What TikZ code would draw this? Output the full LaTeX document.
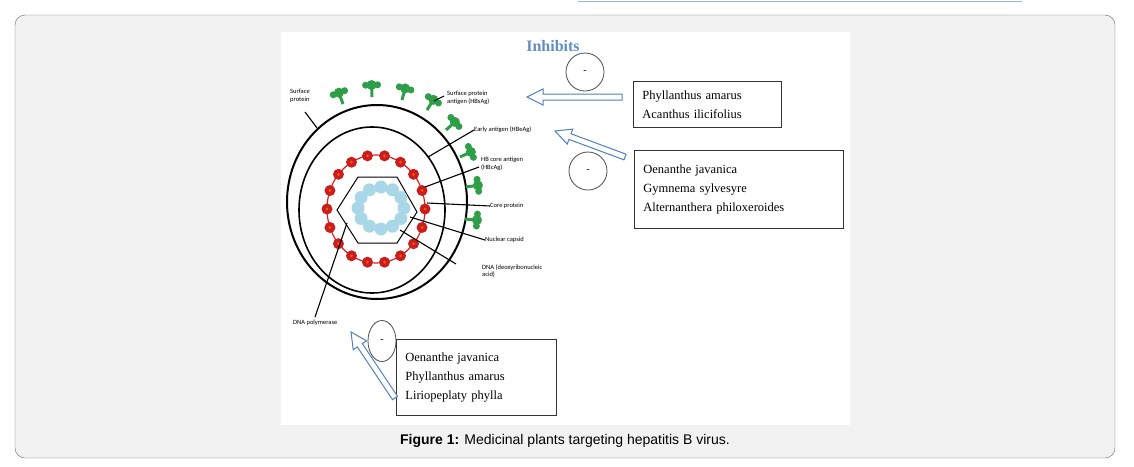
\documentclass[tikz,border=0pt]{standalone}
\usepackage{fontspec}
\setmainfont{Liberation Serif}
\newfontfamily\labfont{Carlito}
\newfontfamily\capfont{Liberation Sans}
\usetikzlibrary{shapes.geometric,calc}
\definecolor{frame}{HTML}{F2F2F3}
\definecolor{ablue}{HTML}{4F81BD}
\definecolor{pgreen}{HTML}{2E9E48}
\definecolor{bred}{HTML}{E02020}
\definecolor{dblue}{HTML}{A8D8E8}
\newcommand\blockarr[2]{%
  \coordinate (hh) at ($(#2)!16pt!(#1)$);
  \draw[ablue,line width=1pt,fill=white,line join=miter]
    ($(#1)!3pt!90:(#2)$) -- ($(hh)!3pt!90:(#2)$) -- ($(hh)!8pt!90:(#2)$) -- (#2)
    -- ($(hh)!8pt!-90:(#2)$) -- ($(hh)!3pt!-90:(#2)$) -- ($(#1)!3pt!-90:(#2)$) -- cycle;}
\begin{document}
\begin{tikzpicture}[x=1pt,y=-1pt,
  lbl/.style={font=\labfont\fontsize{6.5}{7.5}\selectfont,inner sep=0pt,anchor=west,align=left},
  lead/.style={line width=1.1pt},
  plant/.style={draw=black!80,line width=0.8pt,font=\fontsize{12.5}{19}\selectfont,align=left,anchor=north west,inner xsep=9pt,inner ysep=0pt,text width=#1},
  minus/.style={draw=black!70,ellipse,line width=0.8pt,inner sep=0pt}]
\useasboundingbox (0,0) rectangle (1134,466);
\draw[ablue!60,line width=1pt] (578,1) -- (1022,1);
\draw[black!60,fill=frame,rounded corners=10pt] (15,15) rectangle (1115,458);
\fill[white] (281,32) rectangle (850,425);
% virus
\draw[line width=2pt] (377,202) ellipse [x radius=90,y radius=97];
\draw[line width=1.6pt] (372,210) ellipse [x radius=73,y radius=83];
\draw[bred,line width=1.2pt] (376,209) ellipse [x radius=49,y radius=54];
\foreach \a in {0,20,...,340}
  \fill[bred!90!black] ($(376,209)+(\a:49 and 54)$) circle (5.5pt);
\foreach \a in {0,20,...,340}
  \fill[orange!70!red] ($(376,209)+(\a:49 and 54)$) circle (1.5pt);
\draw[line width=1pt] (337,210)--(358,177)--(397,177)--(417,212)--(397,243)--(358,243)--cycle;
\foreach \a in {0,30,...,330}
  \fill[dblue] ($(381,208)+(\a:23 and 21)$) circle (6.5pt);
\fill[white] (381,208) ellipse [x radius=14,y radius=12];
% surface proteins
\foreach \x/\y/\r in {343/104/110,372/97/92,402/100/75,427/110/58,446/130/42,460/157/25,466/187/8,465/219/-5}{
  \draw[pgreen,line width=3pt] (\x,\y) -- ++(-\r:10);
  \fill[pgreen] ($(\x,\y)+(-\r:12)$) circle (5pt);
  \fill[pgreen] ($(\x,\y)+(-\r:12)+(-\r+90:6)$) circle (3.5pt);
  \fill[pgreen] ($(\x,\y)+(-\r:12)+(-\r-90:6)$) circle (3.5pt);}
% labels
\node[lbl] (sp) at (290,96) {Surface\\protein};
\draw[lead] (305,112) -- (317,128);
\node[lbl] (hbs) at (447,98) {Surface protein\\antigen (HBsAg)};
\draw[lead] (434,101) -- (444,96);
\node[lbl] (hbe) at (474,130) {Early antigen (HBeAg)};
\draw[lead] (428,157) -- (hbe.west);
\node[lbl] (hbc) at (481,164) {HB core antigen\\(HBcAg)};
\draw[lead] (425,187) -- (479,167);
\node[lbl] (cp) at (490,206) {Core protein};
\draw[lead] (427,203) -- (cp.west);
\node[lbl] (nc) at (485,240) {Nuclear capsid};
\draw[lead] (410,217) -- (nc.west);
\node[lbl] (dna) at (482,271) {DNA (deoxyribonucleic\\acid)};
\draw[lead] (400,230) -- (456,264);
\node[lbl] (pol) at (293,323) {DNA polymerase};
\draw[lead] (347,223) -- (315,317);
% inhibitors
\node[font=\bfseries\fontsize{16}{18}\selectfont,text=ablue!90] (inh) at (553,46) {Inhibits};
\node[plant=130pt,minimum height=46pt] (b1) at (633,81) {Phyllanthus amarus\\Acanthus ilicifolius};
\node[plant=191pt,minimum height=78pt] (b2) at (634,150) {Oenanthe javanica\\Gymnema sylvesyre\\Alternanthera philoxeroides};
\node[plant=142pt,minimum height=76pt] (b3) at (396,339) {Oenanthe javanica\\Phyllanthus amarus\\Liriopeplaty phylla};
\node[minus,minimum width=38pt,minimum height=38pt] (m1) at (585,72) {-};
\node[minus,minimum width=38pt,minimum height=38pt] (m2) at (588,171) {-};
\node[minus,minimum width=28pt,minimum height=41pt] (m3) at (382,341) {-};
\coordinate (a1s) at (622,97); \coordinate (a1e) at (527,97);
\coordinate (a2s) at (625,157); \coordinate (a2e) at (555,131);
\coordinate (a3s) at (395,398); \coordinate (a3e) at (351,332);
\blockarr{a1s}{a1e}
\blockarr{a2s}{a2e}
\blockarr{a3s}{a3e}
\node[font=\capfont\fontsize{14}{16}\selectfont] (capt) at (565,441) {\textbf{Figure 1:} Medicinal plants targeting hepatitis B virus.};
\end{tikzpicture}
\end{document}
